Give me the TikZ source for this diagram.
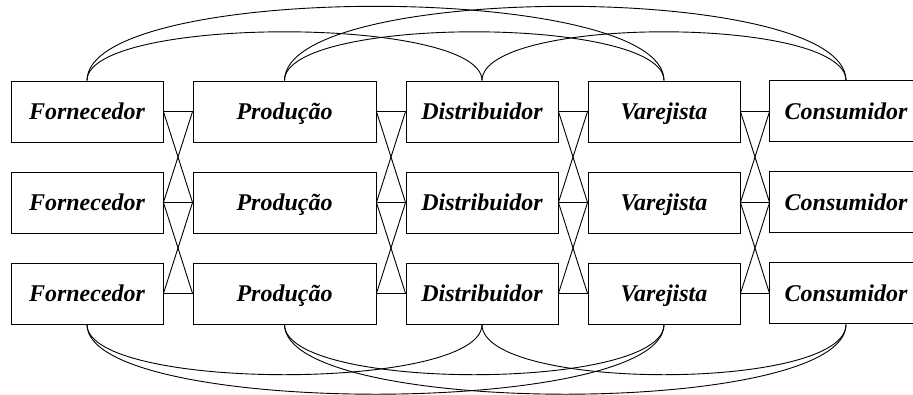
\documentclass[tikz,border=0pt]{standalone}
\usepackage{fontspec}
\setmainfont{Liberation Serif}
\begin{document}
\begin{tikzpicture}[x=1pt,y=-1pt,
  box/.style={draw,line width=0.9pt,rectangle,inner sep=0pt,minimum height=61pt,
    text height=17pt,text depth=2pt,
    font=\fontsize{24}{28}\selectfont\bfseries\itshape},
  link/.style={line width=0.9pt},
  arc/.style={line width=0.9pt}]
\useasboundingbox (0,0) rectangle (913,394);
\begin{scope}
\clip (0,0) rectangle (913,394);
\foreach \r/\y in {1/111.5,2/202.5,3/293.5}{
  \node[box,minimum width=152pt] (F\r) at (87,\y) {Fornecedor};
  \node[box,minimum width=183pt] (P\r) at (284.5,\y) {Produção};
  \node[box,minimum width=152pt] (D\r) at (482,\y) {Distribuidor};
  \node[box,minimum width=152pt] (V\r) at (664,\y) {Varejista};
  \node[box,draw=none,minimum width=152pt] (C\r) at (846,\y) {Consumidor};
  \draw[line width=0.9pt] (C\r.north west) rectangle ++(170,61);
}
\end{scope}
\foreach \a/\b in {F/P,P/D,D/V,V/C}{
  \foreach \r in {1,2,3}{ \draw[link,line width=1.3pt] (\a\r.east) -- (\b\r.west); }
  \foreach \r/\s in {1/2,2/3}{
    \draw[link] (\a\r.east) -- (\b\s.west);
    \draw[link] (\a\s.east) -- (\b\r.west);
  }
}
% top arcs
\foreach \a/\b/\h in {F/D/65,P/V/65,D/C/65,F/V/99,P/C/99}{
  \draw[arc] (\a1.north) .. controls +(0,-\h) and +(0,-\h) .. (\b1.north);
}
% bottom arcs
\foreach \a/\b/\h in {F/D/67,P/V/67,D/C/67,F/V/93,P/C/93}{
  \draw[arc] (\a3.south) .. controls +(0,\h) and +(0,\h) .. (\b3.south);
}
\end{tikzpicture}
\end{document}
